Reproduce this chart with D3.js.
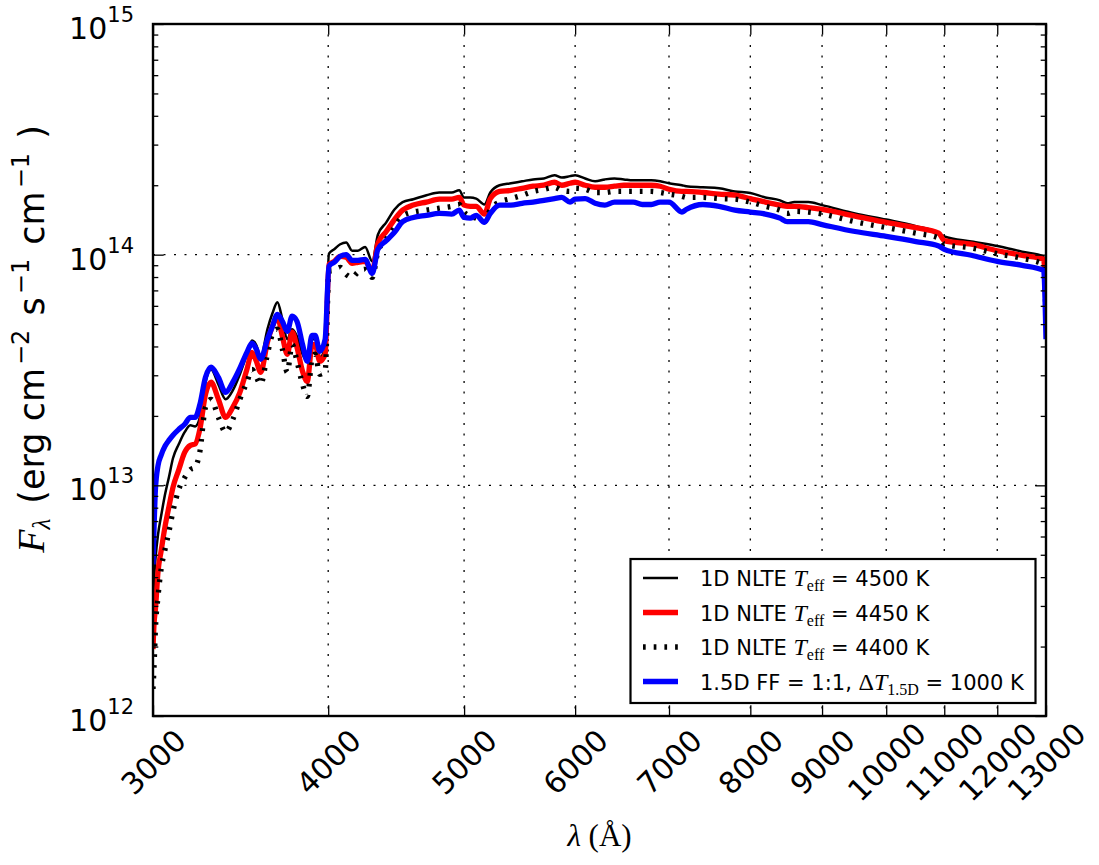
<!DOCTYPE html>
<html><head><meta charset="utf-8">
<script src="https://cdn.jsdelivr.net/npm/d3@7"></script>
<style>body{margin:0;background:#fff}</style>
</head><body>
<svg id="chart" width="1099" height="865" xmlns="http://www.w3.org/2000/svg"></svg>
<script>
// ---- data (wavelength in Angstrom, flux in erg cm^-2 s^-1 cm^-1) ----
const wavelength = [3000,3005,3012,3025,3040,3060,3080,3100,3130,3160,
 3190,3215,3240,3270,3300,3340,3380,3420,3460,3500,
 3530,3555,3580,3620,3650,3680,3710,3740,3770,3800,
 3835,3865,3895,3915,3945,3980,4005,4040,4080,4120,
 4160,4200,4250,4300,4340,4400,4460,4520,4600,4700,
 4800,4900,4960,5000,5050,5100,5170,5220,5300,5400,
 5500,5600,5700,5800,5870,5950,6000,6100,6200,6300,
 6400,6500,6600,6700,6800,6900,7000,7150,7200,7400,
 7600,7800,8000,8200,8400,8500,8600,8800,9000,9500,
 10000,10500,10900,11000,11500,12000,12500,12950,13000];

const flux4500 = [3.20e12,3.91e12,4.78e12,6.13e12,7.34e12,9.14e12,1.09e13,1.31e13,1.51e13,1.70e13,
 1.82e13,1.80e13,1.97e13,2.80e13,3.18e13,2.74e13,2.36e13,2.58e13,3.03e13,3.70e13,
 4.25e13,4.05e13,3.59e13,4.75e13,5.57e13,6.22e13,5.24e13,4.30e13,4.75e13,4.43e13,
 3.70e13,3.45e13,4.30e13,4.30e13,3.59e13,3.97e13,1.01e14,1.055e14,1.11e14,1.13e14,
 1.04e14,1.04e14,1.08e14,9.35e13,1.22e14,1.38e14,1.57e14,1.69e14,1.74e14,1.81e14,
 1.86e14,1.86e14,1.90e14,1.77e14,1.77e14,1.75e14,1.65e14,1.86e14,2.00e14,2.04e14,
 2.08e14,2.12e14,2.14e14,2.21e14,2.16e14,2.19e14,2.21e14,2.14e14,2.08e14,2.12e14,
 2.14e14,2.12e14,2.10e14,2.10e14,2.10e14,2.08e14,2.04e14,2.00e14,1.98e14,1.96e14,
 1.94e14,1.88e14,1.85e14,1.77e14,1.72e14,1.67e14,1.69e14,1.69e14,1.64e14,1.51e14,
 1.42e14,1.33e14,1.24e14,1.20e14,1.14e14,1.09e14,1.03e14,9.84e13,6.40e13];

const flux4450 = [1.95e12,2.50e12,2.90e12,4.24e12,5.17e12,6.64e12,8.11e12,9.80e12,1.17e13,1.39e13,
 1.49e13,1.51e13,1.75e13,2.48e13,2.80e13,2.36e13,1.97e13,2.18e13,2.53e13,3.18e13,
 3.77e13,3.45e13,3.09e13,4.17e13,4.89e13,5.35e13,4.43e13,3.70e13,4.61e13,3.97e13,
 3.12e13,2.82e13,4.05e13,4.08e13,3.45e13,3.70e13,9.08e13,9.35e13,9.84e13,9.74e13,
 9.17e13,9.27e13,9.35e13,8.47e13,1.12e14,1.26e14,1.42e14,1.56e14,1.64e14,1.69e14,
 1.74e14,1.74e14,1.77e14,1.64e14,1.62e14,1.62e14,1.50e14,1.75e14,1.88e14,1.90e14,
 1.94e14,1.98e14,2.00e14,2.06e14,2.00e14,2.04e14,2.06e14,2.00e14,1.96e14,1.96e14,
 1.98e14,2.00e14,2.00e14,2.00e14,2.00e14,1.98e14,1.92e14,1.88e14,1.88e14,1.86e14,
 1.83e14,1.81e14,1.75e14,1.69e14,1.64e14,1.62e14,1.62e14,1.60e14,1.57e14,1.47e14,
 1.38e14,1.31e14,1.24e14,1.15e14,1.11e14,1.04e14,9.94e13,9.55e13,5.79e13];

const flux4400 = [1.31e12,1.62e12,2.38e12,3.30e12,4.32e12,5.28e12,6.32e12,7.71e12,9.61e12,1.08e13,
 1.17e13,1.20e13,1.40e13,2.18e13,2.36e13,1.97e13,1.70e13,1.93e13,2.36e13,2.80e13,
 3.18e13,2.94e13,2.74e13,3.70e13,4.51e13,4.75e13,3.89e13,3.09e13,4.08e13,3.45e13,
 2.74e13,2.43e13,3.52e13,3.70e13,3.03e13,3.12e13,8.47e13,8.55e13,8.81e13,8.21e13,
 7.97e13,8.39e13,8.64e13,7.97e13,1.03e14,1.165e14,1.31e14,1.47e14,1.53e14,1.56e14,
 1.59e14,1.62e14,1.65e14,1.53e14,1.47e14,1.44e14,1.39e14,1.57e14,1.69e14,1.75e14,
 1.81e14,1.88e14,1.92e14,1.96e14,1.90e14,1.88e14,1.94e14,1.92e14,1.86e14,1.86e14,
 1.88e14,1.88e14,1.88e14,1.88e14,1.88e14,1.86e14,1.83e14,1.79e14,1.77e14,1.77e14,
 1.75e14,1.74e14,1.69e14,1.62e14,1.56e14,1.51e14,1.54e14,1.53e14,1.50e14,1.39e14,
 1.31e14,1.24e14,1.18e14,1.11e14,1.07e14,1.01e14,9.64e13,9.08e13,5.24e13];

const flux15D = [4.54e12,6.45e12,9.61e12,1.22e13,1.35e13,1.48e13,1.57e13,1.65e13,1.75e13,1.84e13,
 1.97e13,1.97e13,2.24e13,2.94e13,3.25e13,2.94e13,2.53e13,2.80e13,3.22e13,3.77e13,
 4.13e13,3.89e13,3.52e13,4.30e13,4.89e13,5.51e13,5.14e13,4.65e13,5.41e13,5.14e13,
 4.08e13,3.45e13,4.47e13,4.47e13,3.81e13,4.30e13,8.91e13,9.27e13,9.84e13,1.00e14,
 9.45e13,9.45e13,9.55e13,8.30e13,1.055e14,1.15e14,1.25e14,1.39e14,1.45e14,1.48e14,
 1.51e14,1.50e14,1.56e14,1.45e14,1.44e14,1.48e14,1.38e14,1.51e14,1.64e14,1.64e14,
 1.67e14,1.69e14,1.72e14,1.75e14,1.77e14,1.69e14,1.74e14,1.75e14,1.67e14,1.64e14,
 1.69e14,1.69e14,1.69e14,1.65e14,1.65e14,1.69e14,1.69e14,1.53e14,1.57e14,1.65e14,
 1.62e14,1.56e14,1.53e14,1.50e14,1.44e14,1.39e14,1.39e14,1.39e14,1.35e14,1.26e14,
 1.20e14,1.14e14,1.09e14,1.055e14,9.94e13,9.35e13,8.99e13,8.55e13,4.30e13];

const xTickValues = [3000,4000,5000,6000,7000,8000,9000,10000,11000,12000,13000];
const yTickValues = [1e12,1e13,1e14,1e15];
const yTickExponents = ["12","13","14","15"];

const seriesLabels = [
  [{t:"1D NLTE "},{t:"T",m:"i"},{t:"eff",m:"sub"},{t:" = 4500 K"}],
  [{t:"1D NLTE "},{t:"T",m:"i"},{t:"eff",m:"sub"},{t:" = 4450 K"}],
  [{t:"1D NLTE "},{t:"T",m:"i"},{t:"eff",m:"sub"},{t:" = 4400 K"}],
  [{t:"1.5D FF = 1:1, "},{t:"\u0394",m:"r"},{t:"T",m:"i"},{t:"1.5D",m:"sub"},{t:" = 1000 K"}]
];

// ---- layout ----
const svg = d3.select("#chart");
const L = 153, R = 1046, T = 24, B = 716;
const SANS = "'DejaVu Sans', sans-serif";
const SERIF = "'Liberation Serif', 'DejaVu Serif', serif";

const x = d3.scaleLog().domain([3000, 13000]).range([L, R]);
const y = d3.scaleLog().domain([1e12, 1e15]).range([B, T]);

svg.append("rect").attr("width",1099).attr("height",865).attr("fill","#fff");
svg.append("defs").append("clipPath").attr("id","clip")
  .append("rect").attr("x",L).attr("y",T).attr("width",R-L).attr("height",B-T);

// grid
const grid = svg.append("g").attr("stroke","#000").attr("stroke-width",1.3)
  .attr("stroke-dasharray","2,8.5").attr("fill","none");
grid.selectAll("line.gx").data(xTickValues.slice(1,-1)).join("line")
  .attr("x1",d=>x(d)).attr("x2",d=>x(d)).attr("y1",T).attr("y2",B);
grid.selectAll("line.gy").data(yTickValues.slice(1,-1)).join("line")
  .attr("y1",d=>y(d)).attr("y2",d=>y(d)).attr("x1",L).attr("x2",R);

// series
const series = [
  {values: flux4500, color:"#000000", width:2.5, dash:null},
  {values: flux4450, color:"#ff0000", width:5.3, dash:null},
  {values: flux4400, color:"#000000", width:5.3, dash:"2.7,8"},
  {values: flux15D,  color:"#0000ff", width:5.3, dash:null}
];
const line = d3.line().x(d=>x(d[0])).y(d=>y(d[1])).curve(d3.curveMonotoneX);
const plot = svg.append("g").attr("clip-path","url(#clip)");
series.forEach(s => {
  plot.append("path")
    .datum(wavelength.map((w,i)=>[w, s.values[i]]))
    .attr("d", line).attr("fill","none")
    .attr("stroke", s.color).attr("stroke-width", s.width)
    .attr("stroke-linejoin","round")
    .attr("stroke-dasharray", s.dash);
});

// axes ticks (inward, all four sides)
const minorY = y.ticks().filter(v => Math.abs(Math.log10(v) - Math.round(Math.log10(v))) > 1e-6);
function style(g){ g.select(".domain").remove(); g.selectAll(".tick line").attr("stroke","#000").attr("stroke-width",1.3); }
svg.append("g").attr("transform",`translate(0,${B})`)
  .call(d3.axisBottom(x).tickValues(xTickValues).tickSizeInner(-10.7).tickSizeOuter(0).tickFormat(d=>String(d)))
  .call(style)
  .call(g => g.selectAll("text")
     .attr("y", null).attr("dy", null)
     .attr("transform","translate(0,46) rotate(-45)")
     .attr("text-anchor","middle").attr("dominant-baseline","central")
     .attr("font-family", SANS).attr("font-size", 30).attr("fill","#000"));
svg.append("g").attr("transform",`translate(0,${T})`)
  .call(d3.axisTop(x).tickValues(xTickValues).tickSizeInner(-10.7).tickSizeOuter(0).tickFormat(""))
  .call(style);
svg.append("g").attr("transform",`translate(${L},0)`)
  .call(d3.axisLeft(y).tickValues(yTickValues).tickSizeInner(-10.7).tickSizeOuter(0).tickFormat(""))
  .call(style);
svg.append("g").attr("transform",`translate(${L},0)`)
  .call(d3.axisLeft(y).tickValues(minorY).tickSizeInner(-5.3).tickSizeOuter(0).tickFormat(""))
  .call(style);
svg.append("g").attr("transform",`translate(${R},0)`)
  .call(d3.axisRight(y).tickValues(yTickValues).tickSizeInner(-10.7).tickSizeOuter(0).tickFormat(""))
  .call(style);
svg.append("g").attr("transform",`translate(${R},0)`)
  .call(d3.axisRight(y).tickValues(minorY).tickSizeInner(-5.3).tickSizeOuter(0).tickFormat(""))
  .call(style);

// y tick labels 10^n
yTickValues.forEach((v,i) => {
  const t = svg.append("text").attr("x", 134).attr("y", y(v) + 15)
    .attr("text-anchor","end").attr("font-family", SANS).attr("font-size", 30).attr("fill","#000");
  t.append("tspan").text("10");
  t.append("tspan").attr("font-size", 21).attr("dy", -17).text(yTickExponents[i]);
});

// frame
svg.append("rect").attr("x",L).attr("y",T).attr("width",R-L).attr("height",B-T)
  .attr("fill","none").attr("stroke","#000").attr("stroke-width",2.4);

// axis labels
const xl = svg.append("text").attr("x",(L+R)/2).attr("y",846).attr("text-anchor","middle")
  .attr("font-family", SERIF).attr("font-size", 31).attr("fill","#000");
xl.append("tspan").attr("font-style","italic").text("\u03bb");
xl.append("tspan").text(" (\u00c5)");

const yl = svg.append("text").attr("transform","translate(44,339) rotate(-90)")
  .attr("text-anchor","middle").attr("font-family", SANS).attr("font-size", 35).attr("fill","#000");
yl.append("tspan").attr("font-family", SERIF).attr("font-style","italic").attr("font-size",38).text("F");
yl.append("tspan").attr("font-family", SERIF).attr("font-style","italic").attr("font-size",25).attr("dy",6).text("\u03bb");
yl.append("tspan").attr("dy",-6).attr("dx",4).text(" (erg cm");
yl.append("tspan").attr("font-size",24).attr("dy",-15).attr("dx",3).text("\u22122");
yl.append("tspan").attr("dy",15).attr("dx",3).text(" s");
yl.append("tspan").attr("font-size",24).attr("dy",-15).attr("dx",3).text("\u22121");
yl.append("tspan").attr("dy",15).attr("dx",3).text(" cm");
yl.append("tspan").attr("font-size",24).attr("dy",-15).attr("dx",3).text("\u22121");
yl.append("tspan").attr("dy",15).attr("dx",3).text(" )");

// legend
const lg = svg.append("g");
lg.append("rect").attr("x",630.5).attr("y",559).attr("width",405).attr("height",144)
  .attr("fill","#fff").attr("stroke","#000").attr("stroke-width",2.2);
series.forEach((s,i) => {
  const ry = 578 + i*34.5;
  lg.append("line").attr("x1",643).attr("x2",678).attr("y1",ry).attr("y2",ry)
    .attr("stroke", s.color).attr("stroke-width", s.width).attr("stroke-dasharray", s.dash);
  const t = lg.append("text").attr("x",700).attr("y",ry+8)
    .attr("font-family", SANS).attr("font-size",21).attr("fill","#000");
  let shifted = false;
  seriesLabels[i].forEach(p => {
    const sp = t.append("tspan").text(p.t);
    if (p.m === "i") { sp.attr("font-family",SERIF).attr("font-style","italic").attr("font-size",24); }
    else if (p.m === "r") { sp.attr("font-family",SERIF).attr("font-size",24); }
    else if (p.m === "sub") { sp.attr("font-family",SERIF).attr("font-size",16).attr("dy",5); shifted = true; }
    else if (shifted) { sp.attr("dy",-5); shifted = false; }
  });
});
</script>
</body></html>
